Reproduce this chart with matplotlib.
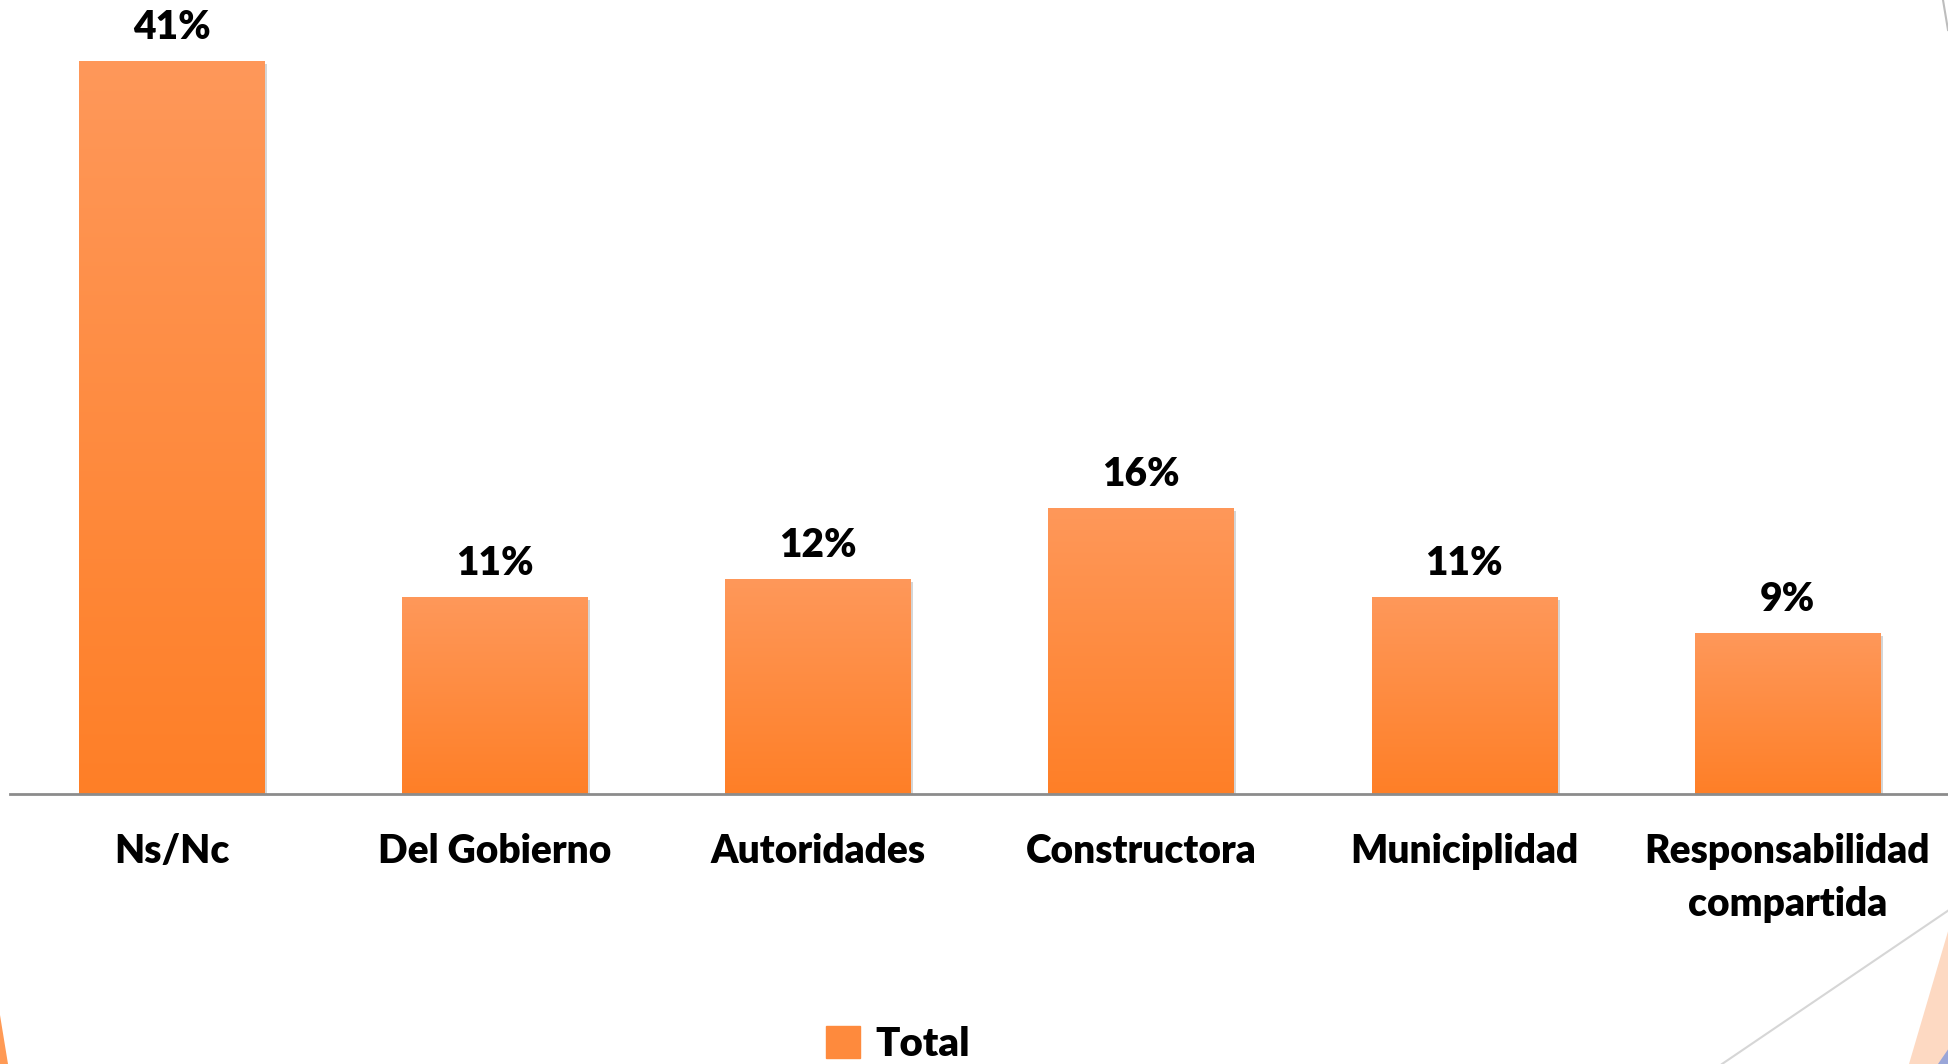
import numpy as np
import matplotlib.pyplot as plt
import matplotlib.patheffects as pe
from matplotlib.colors import LinearSegmentedColormap
from matplotlib.patches import Polygon, Rectangle
from matplotlib.lines import Line2D

categories = ["Ns/Nc", "Del Gobierno", "Autoridades", "Constructora",
              "Municiplidad", "Responsabilidad\ncompartida"]
values = [41, 11, 12, 16, 11, 9]
value_labels = ["41%", "11%", "12%", "16%", "11%", "9%"]

plt.rcParams['font.family'] = ['Lato', 'DejaVu Sans']
plt.rcParams['font.weight'] = 'bold'

W, H = 1949, 1064
fig = plt.figure(figsize=(W / 100, H / 100), dpi=100)


def px(x, y):
    # pixel position (from top-left) to figure fraction
    return (x / W, 1 - y / H)


# corner decorations
fig.add_artist(Polygon([px(0, 1015), px(8, 1064), px(0, 1064)], closed=True,
                       transform=fig.transFigure, color="#ff9a55", lw=0))
fig.add_artist(Polygon([px(1949, 928), px(1909, 1064), px(1949, 1064)], closed=True,
                       transform=fig.transFigure, color="#fdd9c2", lw=0))
fig.add_artist(Polygon([px(1949, 1048), px(1938, 1064), px(1949, 1064)], closed=True,
                       transform=fig.transFigure, color="#9aa6d8", lw=0))
fig.add_artist(Line2D([1722 / W, 1], [1 - 1064 / H, 1 - 910 / H],
                      transform=fig.transFigure, color="#d6d6d6", lw=1.5))
fig.add_artist(Line2D([1943 / W, 1948 / W], [1, 1 - 30 / H],
                      transform=fig.transFigure, color="#bdbdbd", lw=1.5))

ax = fig.add_axes([10 / W, 270 / H, 1939 / W, 794 / H])
ax.patch.set_alpha(0)

grad = LinearSegmentedColormap.from_list("bar", ["#fe7f27", "#ff985a"])
x = np.arange(len(categories))
bars = ax.bar(x, values, width=0.573, color="#fe8028", label="Total", zorder=2)
for b in bars:
    b.set_path_effects([pe.SimplePatchShadow(offset=(2, -2), shadow_rgbFace="#888888", alpha=0.35),
                        pe.Normal()])
    x0, w, h = b.get_x(), b.get_width(), b.get_height()
    img = ax.imshow(np.linspace(0, 1, 256).reshape(-1, 1), cmap=grad, origin="lower",
                    extent=[x0, x0 + w, 0, h], aspect="auto", zorder=3)
    img.set_clip_path(b)

ax.bar_label(bars, labels=value_labels, padding=11, fontsize=28, fontweight="heavy")

ax.set_xlim(-0.5, 5.5)
ax.set_ylim(0, 44.4)
ax.set_xticks(x)
ax.set_xticklabels(categories, fontsize=28, fontweight="heavy", linespacing=1.55)
ax.tick_params(axis="x", length=0, pad=28)
ax.set_yticks([])
for s in ["top", "right", "left"]:
    ax.spines[s].set_visible(False)
ax.spines["bottom"].set_color("#8c8c8c")
ax.spines["bottom"].set_linewidth(2)
ax.spines["bottom"].set_zorder(4)

handle = Rectangle((0, 0), 1, 1, color="#fe8a3d")
fig.legend([handle], ["Total"], loc="lower center", bbox_to_anchor=(898 / W, -0.033),
           frameon=False, handlelength=0.85, handleheight=0.85,
           handletextpad=0.4, prop={"weight": "heavy", "size": 29})

fig.savefig("out.png", dpi=100)
